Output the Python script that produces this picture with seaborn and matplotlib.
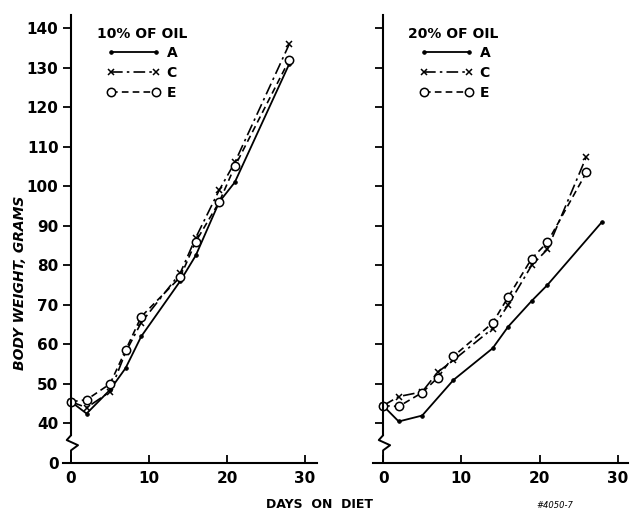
import matplotlib
matplotlib.use("Agg")
import matplotlib.pyplot as plt
import seaborn as sns

# days on diet and body weight (grams)
days_10 = [0, 2, 5, 7, 9, 14, 16, 19, 21, 28]
a_10 = [45.5, 42.5, 48.5, 54, 62, 76, 82.5, 96, 101, 131]
c_10 = [45.5, 44, 48, 58, 65.5, 78, 87, 99, 106, 136]
e_10 = [45.5, 46, 50, 58.5, 67, 77, 86, 96, 105, 132]

days_20_a = [0, 2, 5, 9, 14, 16, 19, 21, 28]
a_20 = [44.5, 40.5, 42, 51, 59, 64.5, 71, 75, 91]
days_20 = [0, 2, 5, 7, 9, 14, 16, 19, 21, 26]
c_20 = [44.5, 46.8, 48, 53, 56, 64, 70, 80, 84, 107.5]
e_20 = [44.5, 44.3, 47.8, 51.6, 57, 65.4, 72, 81.7, 85.8, 103.5]

ytick_vals = [30, 40, 50, 60, 70, 80, 90, 100, 110, 120, 130, 140]
ytick_labels = ["0", "40", "50", "60", "70", "80", "90", "100", "110", "120", "130", "140"]
xtick_vals = [0, 10, 20, 30]

sns.set_theme(style="ticks")
plt.rcParams["font.family"] = ["DejaVu Sans"]
plt.rcParams["text.color"] = "black"

fig = plt.figure(figsize=(6.31, 5.14), dpi=100)
ax1 = fig.add_axes([63.2 / 631, 51 / 514, 253.5 / 631, 448 / 514])
ax2 = fig.add_axes([372.9 / 631, 51 / 514, 255 / 631, 448 / 514])

panels = [
    (ax1, "10% OF OIL", (days_10, a_10), (days_10, c_10), (days_10, e_10), (-1, 31.5)),
    (ax2, "20% OF OIL", (days_20_a, a_20), (days_20, c_20), (days_20, e_20), (-1.3, 31.3)),
]

for ax, title, a, c, e, xlim in panels:
    sns.lineplot(x=a[0], y=a[1], ax=ax, color="black", lw=1.3, marker="o",
                 markersize=2.5, mec="black", mfc="black", label="A")
    sns.lineplot(x=c[0], y=c[1], ax=ax, color="black", lw=1.2, marker="x",
                 markersize=5, mec="black", mew=1.1, dashes=(7, 2.5, 1.5, 2.5),
                 label="C")
    sns.lineplot(x=e[0], y=e[1], ax=ax, color="black", lw=1.2, marker="o",
                 markersize=6, mfc="white", mec="black", mew=1.1,
                 dashes=(4, 2.5), label="E")

    ax.set_xlim(*xlim)
    ax.set_ylim(30, 143.3)
    ax.set_xlabel("")
    ax.set_ylabel("")
    for s in ["top", "right"]:
        ax.spines[s].set_visible(False)
    ax.spines["left"].set_position(("data", 0))
    ax.spines["left"].set_bounds(37, 143.3)
    for s in ["left", "bottom"]:
        ax.spines[s].set_linewidth(1.5)
        ax.spines[s].set_color("black")
    # axis break on the y axis
    ax.plot([0, 0, -0.55, 0.9, 0, 0], [37.2, 37, 35.8, 34.5, 33.2, 30],
            color="black", lw=1.4, clip_on=False)

    ax.set_yticks(ytick_vals)
    ax.set_xticks(xtick_vals)
    ax.tick_params(axis="y", direction="out", length=6, width=1.3, pad=3,
                   labelsize=11, colors="black")
    ax.tick_params(axis="x", direction="in", length=6, width=1.3, pad=6,
                   labelsize=11, colors="black")
    for lab in ax.get_xticklabels() + ax.get_yticklabels():
        lab.set_fontweight("bold")

    ax.text((97 - 63.2) / 253.5 if ax is ax1 else (408 - 372.9) / 255,
            (463 - 34) / 448, title, transform=ax.transAxes, fontsize=10,
            fontweight="bold", va="center", ha="left", color="black")
    lx = (107 - 63.2) / 253.5 if ax is ax1 else (420 - 372.9) / 255
    leg = ax.legend(loc="upper left", bbox_to_anchor=(lx, (463 - 46) / 448),
                    frameon=False, numpoints=2, handlelength=3.8,
                    handletextpad=0.5, labelspacing=0.42, borderpad=0,
                    borderaxespad=0, prop={"size": 10, "weight": "bold"},
                    labelcolor="black")

ax1.set_yticklabels(ytick_labels)
ax2.set_yticklabels([])

fig.text(20 / 631, 1 - 283 / 514, "BODY WEIGHT, GRAMS", rotation=90,
         fontsize=10, fontweight="bold", fontstyle="italic", ha="center",
         va="center", color="black")
fig.text(320 / 631, 1 - 505 / 514, "DAYS  ON  DIET", fontsize=9,
         fontweight="bold", ha="center", va="center", color="black")
fig.text(555 / 631, 1 - 505 / 514, "#4050-7", fontsize=6,
         fontstyle="italic", ha="center", va="center", color="black")

fig.savefig("out.png", dpi=100)
